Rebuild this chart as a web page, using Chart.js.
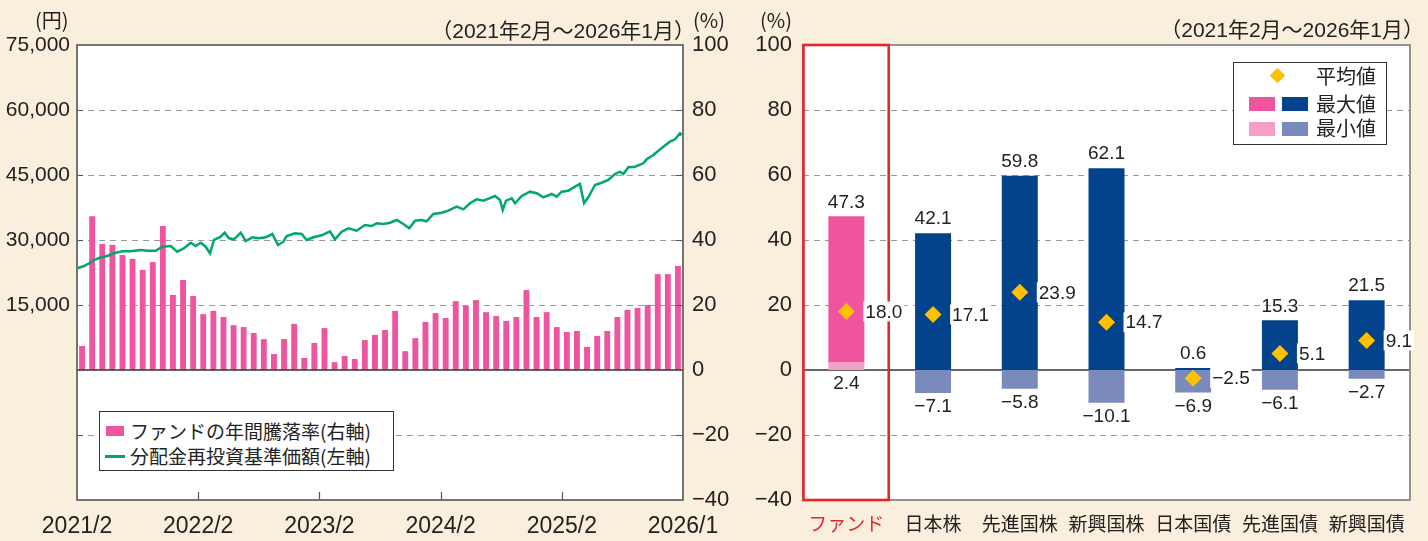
<!DOCTYPE html>
<html lang="ja">
<head>
<meta charset="utf-8">
<title>ファンドの年間騰落率と分配金再投資基準価額</title>
<script src="https://cdn.jsdelivr.net/npm/chart.js@4.4.1/dist/chart.umd.min.js"></script>
<style>
  body { margin: 0; width: 1428px; height: 541px; background: #faeedc; position: relative; overflow: hidden; }
  canvas { position: absolute; top: 0; }
  #leftChart { left: 0; }
  #rightChart { left: 740px; }
  .lbl { position: absolute; white-space: nowrap; font-family: "Noto Sans CJK JP", sans-serif; color: #222; }
  .period { font-family: "Liberation Sans", "Noto Sans CJK JP", sans-serif; font-size: 21px; line-height: 26px; }
  .legend { position: absolute; background: #fff; border: 1px solid #333; box-sizing: border-box; }
  .sw { position: absolute; }
</style>
</head>
<body>
<canvas id="leftChart" width="740" height="541"></canvas>
<canvas id="rightChart" width="688" height="541"></canvas>

<!-- 見出し -->
<div class="lbl" style="left:35px; top:7px; font-size:20px; line-height:26px;">(円)</div>
<div class="lbl period" style="right:733px; top:18px;">（2021年2月～2026年1月）</div>
<div class="lbl" style="left:693px; top:7px; font-size:20px; line-height:26px;">(%)</div>
<div class="lbl" style="left:760px; top:7px; font-size:20px; line-height:26px;">(%)</div>
<div class="lbl period" style="right:4px; top:17px;">（2021年2月～2026年1月）</div>

<!-- 左の凡例 -->
<div class="legend" style="left:99px; top:411px; width:295px; height:60px;"></div>
<div class="sw" style="left:106px; top:426px; width:18px; height:10px; background:#ee559e;"></div>
<div class="lbl" style="left:130px; top:419px; font-size:19px; line-height:24px;">ファンドの年間騰落率(右軸)</div>
<div class="sw" style="left:105px; top:455px; width:20px; height:2.5px; background:#00a968;"></div>
<div class="lbl" style="left:130px; top:444px; font-size:19px; line-height:24px;">分配金再投資基準価額(左軸)</div>

<!-- 右の凡例 -->
<div class="legend" style="left:1233px; top:62px; width:154px; height:83px;"></div>
<div class="sw" style="left:1272px; top:70px; width:11px; height:11px; background:#ffc000; transform:rotate(45deg);"></div>
<div class="lbl" style="left:1316px; top:64px; font-size:20px; line-height:24px;">平均値</div>
<div class="sw" style="left:1249px; top:97px; width:26px; height:14px; background:#ee559e;"></div>
<div class="sw" style="left:1282px; top:97px; width:26px; height:14px; background:#02438b;"></div>
<div class="lbl" style="left:1316px; top:92px; font-size:20px; line-height:24px;">最大値</div>
<div class="sw" style="left:1249px; top:122px; width:26px; height:14px; background:#f4a0c5;"></div>
<div class="sw" style="left:1282px; top:122px; width:26px; height:14px; background:#7a8abb;"></div>
<div class="lbl" style="left:1316px; top:116px; font-size:20px; line-height:24px;">最小値</div>

<script>
// 左：ファンドの年間騰落率（％、2021/2〜2026/1の各月）
const fundReturns = [
  7.4, 47.3, 38.8, 38.5, 35.4, 34.2, 30.8, 33.2, 44.3, 23.1,
  27.7, 22.8, 17.2, 18.2, 16.3, 13.8, 13.2, 11.4, 9.5, 4.9,
  9.5, 14.2, 3.7, 8.3, 12.9, 2.4, 4.3, 3.4, 9.2, 10.8,
  12.3, 18.2, 5.8, 9.8, 14.8, 17.5, 16.0, 21.2, 19.7, 21.5,
  17.8, 16.6, 15.1, 16.3, 24.6, 16.3, 17.8, 13.2, 11.7, 12.0,
  7.1, 10.5, 12.0, 16.3, 18.5, 19.1, 20.0, 29.5, 29.5, 32.0
];

// 分配金再投資基準価額（円）：経過月数と値
const navMonths = [
  0.03, 0.69, 1.19, 1.68, 2.35, 3.0, 3.66, 4.49, 5.32, 6.31, 6.96, 7.79, 8.45, 9.28, 9.93,
  10.59, 11.26, 11.75, 12.25, 12.74, 13.17, 13.56, 14.23, 14.62, 15.05, 15.54, 16.21, 16.7,
  17.36, 18.02, 18.68, 19.34, 19.9, 20.43, 20.76, 21.58, 22.25, 22.74, 23.4, 24.23, 25.05,
  25.54, 26.21, 26.86, 27.69, 28.51, 29.18, 29.67, 30.33, 30.99, 31.65, 32.31, 32.9, 33.47,
  34.13, 34.62, 35.28, 36.11, 36.76, 37.59, 38.25, 38.91, 39.57, 40.23, 40.82, 41.39, 41.88,
  42.15, 42.48, 43.04, 43.37, 44.03, 44.85, 45.52, 46.17, 47.0, 47.49, 47.99, 48.64, 49.31,
  49.8, 50.2, 50.62, 51.29, 51.95, 52.6, 53.27, 53.76, 54.09, 54.59, 55.25, 56.07, 56.41,
  57.06, 57.56, 58.05, 58.71, 59.21, 59.7, 59.87
];
const navValues = [
  23470, 24000, 24620, 25385, 26010, 26310, 26930, 27390, 27390, 27690, 27530, 27530, 28450, 28620, 27300,
  28080, 29380, 28620, 29380, 28450, 26930, 30000, 30760, 31690, 30390, 30160, 31690, 29770,
  30620, 30390, 30620, 31380, 28850, 29610, 30920, 31550, 31380, 30000, 30620, 31080, 32010,
  30160, 31920, 32700, 32150, 33460, 33230, 33850, 33690, 33990, 34620, 33690, 32700, 34450,
  34620, 34310, 36000, 36300, 36760, 37690, 37080, 38470, 39390, 39070, 39620, 40150, 39230,
  36920, 39070, 39620, 38470, 40150, 41150, 40780, 39850, 40620, 39990, 41150, 41380, 42300,
  42920, 38470, 39850, 42690, 43220, 43850, 45230, 45760, 45230, 46780, 46920, 47700, 48620,
  49620, 50610, 51530, 52690, 53240, 54620, 54230
];

const xTickLabels = ["2021/2", "2022/2", "2023/2", "2024/2", "2025/2", "2026/1"];

// 右：資産クラス別の年間騰落率（％）
const assetNames = ["ファンド", "日本株", "先進国株", "新興国株", "日本国債", "先進国債", "新興国債"];
const maxValues = [47.3, 42.1, 59.8, 62.1, 0.6, 15.3, 21.5];
const minValues = [2.4, -7.1, -5.8, -10.1, -6.9, -6.1, -2.7];
const avgValues = [18.0, 17.1, 23.9, 14.7, -2.5, 5.1, 9.1];

const pctTicks = v => String(v).replace("-", "−");
const fmt = v => v.toFixed(1).replace("-", "−");
const numFont = { family: "Liberation Sans", size: 21 };

// 共通：チャートエリアを白で塗る
const whiteArea = {
  id: "whiteArea",
  beforeDraw(chart) {
    const { ctx, chartArea: a } = chart;
    ctx.save();
    ctx.fillStyle = "#fff";
    ctx.fillRect(a.left, a.top, a.right - a.left, a.bottom - a.top);
    ctx.restore();
  }
};

function dashedGrid(chart, scaleId, values, x1, x2) {
  const { ctx } = chart;
  const s = chart.scales[scaleId];
  ctx.save();
  ctx.strokeStyle = "#9a9a9a";
  ctx.lineWidth = 1.2;
  ctx.setLineDash([6, 5]);
  values.forEach(v => {
    const y = Math.round(s.getPixelForValue(v)) + 0.5;
    ctx.beginPath();
    ctx.moveTo(x1, y);
    ctx.lineTo(x2, y);
    ctx.stroke();
  });
  ctx.restore();
}

// 左グラフの枠・目盛
const leftFrame = {
  id: "leftFrame",
  beforeDatasetsDraw(chart) {
    const a = chart.chartArea;
    dashedGrid(chart, "y1", [80, 60, 40, 20, -20], a.left, a.right);
  },
  afterDatasetsDraw(chart) {
    const { ctx, chartArea: a, scales } = chart;
    ctx.save();
    // 0%ライン
    const y0 = scales.y1.getPixelForValue(0);
    ctx.strokeStyle = "#333";
    ctx.lineWidth = 1.5;
    ctx.beginPath();
    ctx.moveTo(a.left, y0);
    ctx.lineTo(a.right, y0);
    ctx.stroke();
    // 内向きの目盛
    ctx.strokeStyle = "#555";
    ctx.lineWidth = 1.2;
    [80, 60, 40, 20, -20].forEach(v => {
      const y = Math.round(scales.y1.getPixelForValue(v)) + 0.5;
      ctx.beginPath();
      ctx.moveTo(a.right - 7, y);
      ctx.lineTo(a.right, y);
      ctx.moveTo(a.left, y);
      ctx.lineTo(a.left + 6, y);
      ctx.stroke();
    });
    [12, 24, 36, 48].forEach(m => {
      const x = Math.round(scales.x.getPixelForValue(m)) + 0.5;
      ctx.beginPath();
      ctx.moveTo(x, a.bottom);
      ctx.lineTo(x, a.bottom - 8);
      ctx.stroke();
    });
    // 外枠
    ctx.strokeStyle = "#666";
    ctx.lineWidth = 1.8;
    ctx.strokeRect(a.left, a.top, a.right - a.left, a.bottom - a.top);
    ctx.restore();
  }
};

new Chart(document.getElementById("leftChart"), {
  type: "bar",
  data: {
    datasets: [
      {
        type: "line",
        label: "分配金再投資基準価額(左軸)",
        data: navMonths.map((m, i) => ({ x: m, y: navValues[i] })),
        yAxisID: "y",
        borderColor: "#00a968",
        borderWidth: 2.5,
        pointRadius: 0,
        tension: 0,
        order: 0
      },
      {
        type: "bar",
        label: "ファンドの年間騰落率(右軸)",
        data: fundReturns.map((v, i) => ({ x: i + 0.5, y: v })),
        yAxisID: "y1",
        backgroundColor: "#ee559e",
        barPercentage: 0.58,
        categoryPercentage: 1,
        order: 1
      }
    ]
  },
  options: {
    responsive: false,
    animation: false,
    layout: { padding: { top: 45 } },
    plugins: { legend: { display: false }, tooltip: { enabled: false } },
    scales: {
      x: {
        type: "linear",
        min: 0,
        max: 60,
        offset: false,
        grid: { display: false, drawTicks: false },
        border: { display: false },
        ticks: {
          stepSize: 12,
          autoSkip: false,
          maxRotation: 0,
          padding: 13,
          color: "#222",
          font: { family: "Liberation Sans", size: 23 },
          callback: v => xTickLabels[v / 12]
        },
        afterFit: s => { s.height = 41; }
      },
      y: {
        position: "left",
        min: -30000,
        max: 75000,
        grid: { display: false, drawTicks: false },
        border: { display: false },
        ticks: {
          stepSize: 15000,
          padding: 7,
          color: "#222",
          font: numFont,
          callback: v => (v >= 15000 ? v.toLocaleString("en-US") : "")
        },
        afterFit: s => { s.width = 77; }
      },
      y1: {
        position: "right",
        min: -40,
        max: 100,
        grid: { display: false, drawTicks: false },
        border: { display: false },
        ticks: { stepSize: 20, padding: 9, color: "#222", font: { family: "Liberation Sans", size: 22 }, callback: pctTicks },
        afterFit: s => { s.width = 57; }
      }
    }
  },
  plugins: [whiteArea, leftFrame]
});

// 右グラフの枠・ラベル
const rightFrame = {
  id: "rightFrame",
  beforeDatasetsDraw(chart) {
    const { ctx, chartArea: a, scales } = chart;
    dashedGrid(chart, "y", [80, 60, 40, 20, -20], a.left, a.right);
    const y0 = scales.y.getPixelForValue(0);
    ctx.save();
    ctx.strokeStyle = "#333";
    ctx.lineWidth = 1.5;
    ctx.beginPath();
    ctx.moveTo(a.left, y0);
    ctx.lineTo(a.right, y0);
    ctx.stroke();
    ctx.restore();
  },
  afterDatasetsDraw(chart) {
    const { ctx, chartArea: a, scales } = chart;
    const xs = scales.x, ys = scales.y;
    ctx.save();
    // 外枠
    ctx.strokeStyle = "#888";
    ctx.lineWidth = 1.8;
    ctx.strokeRect(a.left, a.top, a.right - a.left, a.bottom - a.top);
    // ファンドを囲む赤枠
    const half = (xs.getPixelForValue(1) - xs.getPixelForValue(0)) / 2;
    const fx = xs.getPixelForValue(0);
    ctx.strokeStyle = "#e8262a";
    ctx.lineWidth = 2.6;
    ctx.strokeRect(fx - half + 0.5, a.top, 2 * half - 1.5, a.bottom - a.top);

    // 数値ラベル
    ctx.font = "19px 'Liberation Sans'";
    ctx.textBaseline = "middle";
    ctx.fillStyle = "#222";
    assetNames.forEach((n, i) => {
      const x = xs.getPixelForValue(i);
      ctx.textAlign = "center";
      ctx.fillText(fmt(maxValues[i]), x, ys.getPixelForValue(maxValues[i]) - 14);
      const bottom = ys.getPixelForValue(Math.min(minValues[i], 0));
      ctx.fillText(fmt(minValues[i]), x, bottom + 14);
      const ay = ys.getPixelForValue(avgValues[i]);
      const t = fmt(avgValues[i]);
      const w = ctx.measureText(t).width;
      ctx.fillStyle = "#fff";
      ctx.fillRect(x + 17, ay - 10, w + 4, 20);
      ctx.fillStyle = "#222";
      ctx.textAlign = "left";
      ctx.fillText(t, x + 19, ay + 1);
    });
    ctx.restore();
  }
};

new Chart(document.getElementById("rightChart"), {
  type: "bar",
  data: {
    labels: assetNames,
    datasets: [
      {
        type: "line",
        label: "平均値",
        data: avgValues,
        showLine: false,
        pointStyle: "rectRot",
        pointRadius: 8.5,
        pointBackgroundColor: "#ffc000",
        pointBorderWidth: 0,
        order: 0
      },
      {
        label: "最大値",
        data: maxValues.map((v, i) => [Math.max(minValues[i], 0), v]),
        backgroundColor: assetNames.map((n, i) => (i === 0 ? "#ee559e" : "#02438b")),
        barPercentage: 0.415,
        categoryPercentage: 1,
        order: 1
      },
      {
        label: "最小値",
        data: minValues.map(v => [Math.min(v, 0), Math.max(v, 0)]),
        backgroundColor: assetNames.map((n, i) => (i === 0 ? "#f4a0c5" : "#7a8abb")),
        barPercentage: 0.415,
        categoryPercentage: 1,
        order: 2
      }
    ]
  },
  options: {
    responsive: false,
    animation: false,
    layout: { padding: { top: 45, right: 18 } },
    plugins: { legend: { display: false }, tooltip: { enabled: false } },
    scales: {
      x: {
        stacked: true,
        grid: { display: false, drawTicks: false },
        border: { display: false },
        ticks: {
          padding: 12,
          font: { family: "Noto Sans CJK JP", size: 19 },
          color: ctx => (ctx.index === 0 ? "#e8262a" : "#222")
        },
        afterFit: s => { s.height = 41; }
      },
      y: {
        min: -40,
        max: 100,
        grid: { display: false, drawTicks: false },
        border: { display: false },
        ticks: { stepSize: 20, padding: 11, color: "#222", font: { family: "Liberation Sans", size: 22 }, callback: pctTicks },
        afterFit: s => { s.width = 63; }
      }
    }
  },
  plugins: [whiteArea, rightFrame]
});
</script>
</body>
</html>
